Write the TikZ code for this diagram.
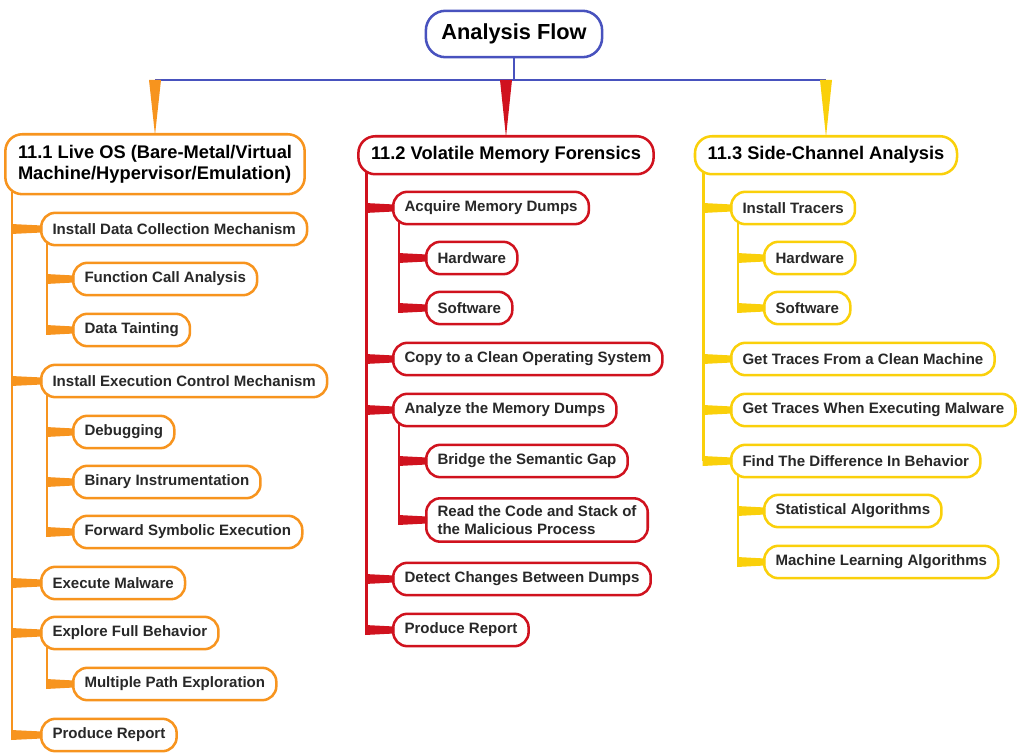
\documentclass[tikz,border=0pt]{standalone}
\usepackage{fontspec}
\setmainfont{Liberation Sans}
\usetikzlibrary{calc}
\definecolor{flowBlue}{RGB}{72,82,190}
\definecolor{liveOrange}{RGB}{247,148,30}
\definecolor{memRed}{RGB}{208,18,30}
\definecolor{sideYellow}{RGB}{250,208,10}
\definecolor{txtGray}{RGB}{40,40,40}
\tikzset{
  topic/.style = {draw=#1, fill=white, line width=1.8pt, rounded corners=10pt,
                  minimum height=23pt, inner xsep=8pt, inner ysep=3pt, anchor=west,
                  text=txtGray, font=\bfseries\fontsize{10.7}{13}\selectfont},
  head/.style  = {draw=#1, fill=white, line width=1.8pt, rounded corners=12pt,
                  minimum height=27pt, inner xsep=9pt, anchor=north,
                  text=black, font=\bfseries\fontsize{13}{15.5}\selectfont},
  root/.style  = {draw=flowBlue, fill=white, line width=1.8pt, rounded corners=14pt,
                  minimum height=33pt, inner xsep=11pt,
                  text=black, font=\bfseries\fontsize{15.5}{18}\selectfont},
  trunk/.style = {draw=#1, line width=2pt}
}
% tapered branch: colour, trunk, child
\newcommand{\branch}[3]{%
  \fill[#1] ($(#3.west -| #2)+(-1,-5)$) -- ($(#3.west)+(2,-3.5)$)
         -- ($(#3.west)+(2,3.5)$) -- ($(#3.west -| #2)+(-1,5)$) -- cycle;}
% wedge from the bus down to a head
\newcommand{\busdrop}[2]{%
  \fill[#1] ($(#2.north |- bus)+(-6,0)$) -- ($(#2.north |- bus)+(6,0)$)
         -- ($(#2.north)+(0,2)$) -- cycle;}

\begin{document}
\begin{tikzpicture}[x=0.025cm, y=-0.025cm]
	\useasboundingbox (0,0) rectangle (1024,753);

	% Root
	\node[root] (flow) at (514,34) {Analysis Flow};
	\coordinate (bus) at (514,80);

	% Heads
	\node[head=liveOrange, align=left, inner ysep=7.5pt] (live) at (155,133)
		{11.1 Live OS (Bare-Metal/Virtual\\Machine/Hypervisor/Emulation)};
	\node[head=memRed] (mem) at (506,135) {11.2 Volatile Memory Forensics};
	\node[head=sideYellow] (side) at (826,135) {11.3 Side-Channel Analysis};

	% Bus
	\draw[flowBlue, line width=1.4pt] (flow.south) -- (bus);
	\draw[flowBlue, line width=1.4pt] (live.north |- bus) -- (side.north |- bus);
	\busdrop{liveOrange}{live}
	\busdrop{memRed}{mem}
	\busdrop{sideYellow}{side}

	% 11.1 Live OS
	\node[topic=liveOrange] (idc)   at (40,229)  {Install Data Collection Mechanism};
	\node[topic=liveOrange] (fca)   at (72,279)  {Function Call Analysis};
	\node[topic=liveOrange] (taint) at (72,330)  {Data Tainting};
	\node[topic=liveOrange] (iec)   at (40,381)  {Install Execution Control Mechanism};
	\node[topic=liveOrange] (dbg)   at (72,432)  {Debugging};
	\node[topic=liveOrange] (bin)   at (72,482)  {Binary Instrumentation};
	\node[topic=liveOrange] (fse)   at (72,532)  {Forward Symbolic Execution};
	\node[topic=liveOrange] (exm)   at (40,583)  {Execute Malware};
	\node[topic=liveOrange] (efb)   at (40,633)  {Explore Full Behavior};
	\node[topic=liveOrange] (mpe)   at (72,684)  {Multiple Path Exploration};
	\node[topic=liveOrange] (rep1)  at (40,735)  {Produce Report};

	\coordinate (liveT) at ($(live.south west)+(8,-3)$);
	\coordinate (idcT)  at ($(idc.south west)+(7,-3)$);
	\coordinate (iecT)  at ($(iec.south west)+(7,-3)$);
	\coordinate (efbT)  at ($(efb.south west)+(7,-3)$);
	\draw[trunk=liveOrange] (liveT) -- (liveT |- rep1.west);
	\draw[trunk=liveOrange] (idcT) -- (idcT |- taint.west);
	\draw[trunk=liveOrange] (iecT) -- (iecT |- fse.west);
	\draw[trunk=liveOrange] (efbT) -- (efbT |- mpe.west);
	\branch{liveOrange}{liveT}{idc}
	\branch{liveOrange}{idcT}{fca}
	\branch{liveOrange}{idcT}{taint}
	\branch{liveOrange}{liveT}{iec}
	\branch{liveOrange}{iecT}{dbg}
	\branch{liveOrange}{iecT}{bin}
	\branch{liveOrange}{iecT}{fse}
	\branch{liveOrange}{liveT}{exm}
	\branch{liveOrange}{liveT}{efb}
	\branch{liveOrange}{efbT}{mpe}
	\branch{liveOrange}{liveT}{rep1}

	% 11.2 Volatile Memory Forensics
	\node[topic=memRed] (acq)   at (392,208) {Acquire Memory Dumps};
	\node[topic=memRed] (hwm)   at (425,258) {Hardware};
	\node[topic=memRed] (swm)   at (425,308) {Software};
	\node[topic=memRed] (copy)  at (392,359) {Copy to a Clean Operating System};
	\node[topic=memRed] (anl)   at (392,410) {Analyze the Memory Dumps};
	\node[topic=memRed] (gap)   at (425,461) {Bridge the Semantic Gap};
	\node[topic=memRed, align=left, inner ysep=5pt] (code) at (425,520)
		{Read the Code and Stack of\\the Malicious Process};
	\node[topic=memRed] (chg)   at (392,579) {Detect Changes Between Dumps};
	\node[topic=memRed] (rep2)  at (392,630) {Produce Report};

	\coordinate (memT) at ($(mem.south west)+(9,-3)$);
	\coordinate (acqT) at ($(acq.south west)+(7,-3)$);
	\coordinate (anlT) at ($(anl.south west)+(7,-3)$);
	\draw[trunk=memRed] (memT) -- (memT |- rep2.west);
	\draw[trunk=memRed] (acqT) -- (acqT |- swm.west);
	\draw[trunk=memRed] (anlT) -- (anlT |- code.west);
	\branch{memRed}{memT}{acq}
	\branch{memRed}{acqT}{hwm}
	\branch{memRed}{acqT}{swm}
	\branch{memRed}{memT}{copy}
	\branch{memRed}{memT}{anl}
	\branch{memRed}{anlT}{gap}
	\branch{memRed}{anlT}{code}
	\branch{memRed}{memT}{chg}
	\branch{memRed}{memT}{rep2}

	% 11.3 Side-Channel Analysis
	\node[topic=sideYellow] (trc)   at (730,208) {Install Tracers};
	\node[topic=sideYellow] (hws)   at (763,258) {Hardware};
	\node[topic=sideYellow] (sws)   at (763,308) {Software};
	\node[topic=sideYellow] (clean) at (730,359) {Get Traces From a Clean Machine};
	\node[topic=sideYellow] (mal)   at (730,410) {Get Traces When Executing Malware};
	\node[topic=sideYellow] (fdb)   at (730,461) {Find The Difference In Behavior};
	\node[topic=sideYellow] (stat)  at (763,511) {Statistical Algorithms};
	\node[topic=sideYellow] (ml)    at (763,562) {Machine Learning Algorithms};

	\coordinate (sideT) at ($(side.south west)+(10,-3)$);
	\coordinate (trcT)  at ($(trc.south west)+(8,-3)$);
	\coordinate (fdbT)  at ($(fdb.south west)+(8,-3)$);
	\draw[trunk=sideYellow] (sideT) -- (sideT |- fdb.west);
	\draw[trunk=sideYellow] (trcT) -- (trcT |- sws.west);
	\draw[trunk=sideYellow] (fdbT) -- (fdbT |- ml.west);
	\branch{sideYellow}{sideT}{trc}
	\branch{sideYellow}{trcT}{hws}
	\branch{sideYellow}{trcT}{sws}
	\branch{sideYellow}{sideT}{clean}
	\branch{sideYellow}{sideT}{mal}
	\branch{sideYellow}{sideT}{fdb}
	\branch{sideYellow}{fdbT}{stat}
	\branch{sideYellow}{fdbT}{ml}

\end{tikzpicture}
\end{document}
